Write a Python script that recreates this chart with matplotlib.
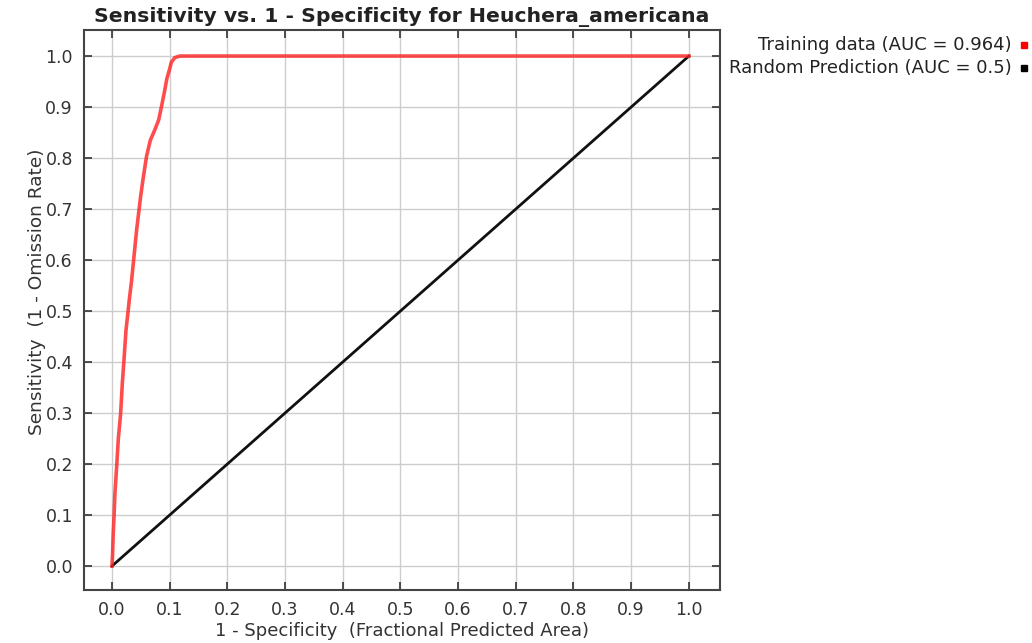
import matplotlib
matplotlib.use("Agg")
import matplotlib.pyplot as plt
from matplotlib.lines import Line2D

species = "Heuchera_americana"
train_auc = 0.964
random_auc = 0.5

# ROC curve for the training data (fractional predicted area, sensitivity)
roc_fpa = [0.0, 0.001, 0.002, 0.0035, 0.005, 0.008, 0.011, 0.015, 0.018,
           0.0208, 0.0243, 0.027, 0.030, 0.034, 0.037, 0.0427, 0.0497,
           0.054, 0.060, 0.0665, 0.0745, 0.081, 0.086, 0.091, 0.095,
           0.100, 0.103, 0.109, 0.118, 1.0]
roc_sens = [0.0, 0.023, 0.06, 0.095, 0.14, 0.193, 0.25, 0.299, 0.36,
            0.404, 0.463, 0.49, 0.522, 0.56, 0.594, 0.659, 0.725,
            0.76, 0.804, 0.835, 0.856, 0.875, 0.902, 0.93, 0.955,
            0.975, 0.988, 0.997, 1.0, 1.0]

# Random prediction reference line
rand_x = [0.0, 1.0]
rand_y = [0.0, 1.0]

ticks = [0.0, 0.1, 0.2, 0.3, 0.4, 0.5, 0.6, 0.7, 0.8, 0.9, 1.0]

fig = plt.figure(figsize=(10.32, 6.43), dpi=100)
ax = fig.add_axes([0.0814, 0.0824, 0.6163, 0.8709])

ax.plot(rand_x, rand_y, color="#111111", lw=2.0, zorder=3)
ax.plot(roc_fpa, roc_sens, color="#ff2020", lw=2.6, alpha=0.8, zorder=4,
        solid_joinstyle="round")

ax.set_xlim(-0.0485, 1.054)
ax.set_ylim(-0.047, 1.051)
ax.set_xticks(ticks)
ax.set_yticks(ticks)
ax.set_xticklabels([f"{t:.1f}" for t in ticks])
ax.set_yticklabels([f"{t:.1f}" for t in ticks])
ax.grid(True, color="#cdcdcd", lw=1.0)
ax.set_axisbelow(True)
ax.tick_params(direction="in", top=True, right=True, length=6, width=1.2,
               color="#333333", labelsize=12.5, labelcolor="#333333", pad=8)
for s in ax.spines.values():
    s.set_color("#444444")
    s.set_linewidth(1.5)

# Title sits just above the frame
fig.text(402 / 1032, 1 - 22 / 643,
         f"Sensitivity vs. 1 - Specificity for {species}",
         ha="center", va="baseline", fontsize=14.7, fontweight="bold",
         color="#222222")
ax.set_xlabel("1 - Specificity  (Fractional Predicted Area)", fontsize=13,
              color="#333333", labelpad=2)
ax.set_ylabel("Sensitivity  (1 - Omission Rate)", fontsize=13.3,
              color="#333333")
ax.yaxis.set_label_coords(-0.060, 0.532)

# Legend entries on the right side of the figure
legend_items = [(f"Training data (AUC = {train_auc})", "#ff0000"),
                (f"Random Prediction (AUC = {random_auc})", "#000000")]
for i, (label, col) in enumerate(legend_items):
    y = 1 - (45 + 23 * i) / 643
    fig.text(1012 / 1032, y, label, ha="right", va="center", fontsize=13,
             color="#222222")
    fig.add_artist(Line2D([1024 / 1032], [y], marker="s", markersize=5,
                          color=col, transform=fig.transFigure, lw=0))

fig.savefig("out.png", dpi=100)
